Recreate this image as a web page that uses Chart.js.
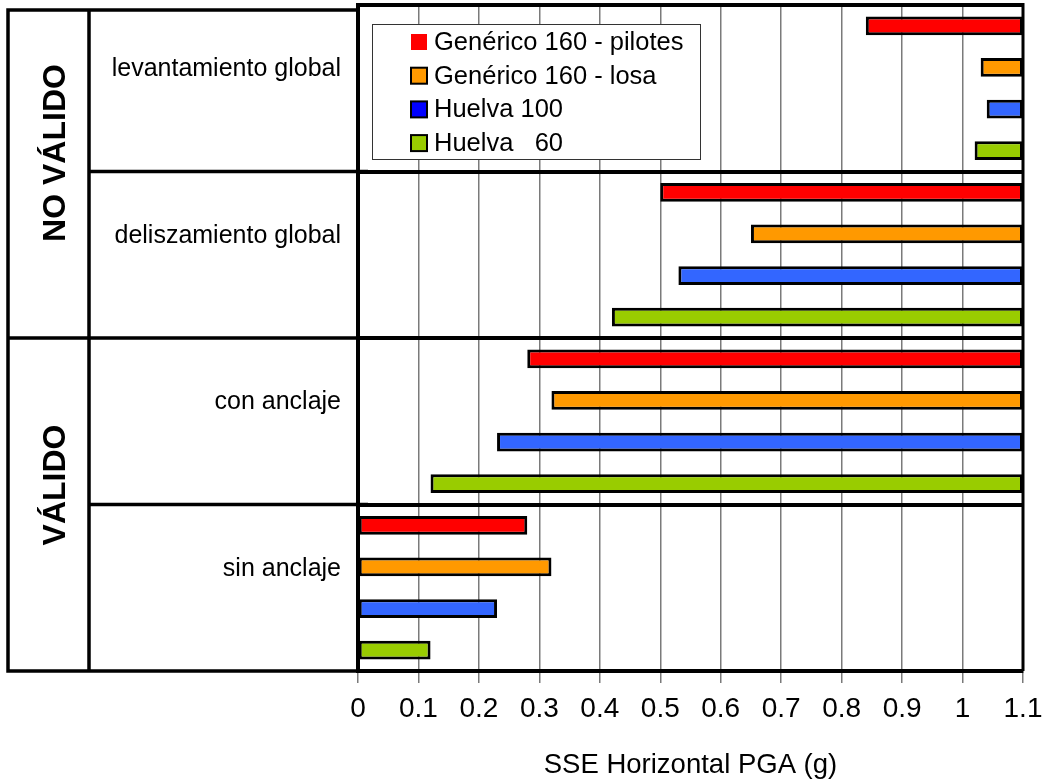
<!DOCTYPE html>
<html>
<head>
<meta charset="utf-8">
<script src="https://cdn.jsdelivr.net/npm/chart.js@4.4.0/dist/chart.umd.min.js"></script>
<style>
  html, body { margin: 0; padding: 0; background: #fff; }
</style>
</head>
<body>
<canvas id="chart_canvas" width="1048" height="784"></canvas>
<script>
const FONT = "'Liberation Sans', Arial, sans-serif";

const categories = ['levantamiento global', 'deliszamiento global', 'con anclaje', 'sin anclaje'];
const groupLabels = ['NO VÁLIDO', 'VÁLIDO'];

const seriesNames = ['Genérico 160 - pilotes', 'Genérico 160 - losa', 'Huelva 100', 'Huelva   60'];
const seriesColors = ['#ff0000', '#ff9900', '#3366ff', '#99cc00'];
const legendColors = ['#ff0000', '#ff9900', '#0000ff', '#99cc00'];

// floating bars: [from, to] per category
const pilotesFrom = [0.84, 0.50, 0.28, 0];
const pilotesTo   = [1.1, 1.1, 1.1, 0.28];
const losaFrom    = [1.03, 0.65, 0.32, 0];
const losaTo      = [1.1, 1.1, 1.1, 0.32];
const h100From    = [1.04, 0.53, 0.23, 0];
const h100To      = [1.1, 1.1, 1.1, 0.23];
const h60From     = [1.02, 0.42, 0.12, 0];
const h60To       = [1.1, 1.1, 1.1, 0.12];

const xTickLabels = ['0', '0.1', '0.2', '0.3', '0.4', '0.5', '0.6', '0.7', '0.8', '0.9', '1', '1.1'];
const xTitle = 'SSE Horizontal PGA (g)';

const pairs = (a, b) => a.map((v, i) => [v, b[i]]);
const seriesData = [
    pairs(pilotesFrom, pilotesTo),
    pairs(losaFrom, losaTo),
    pairs(h100From, h100To),
    pairs(h60From, h60To)
];

const datasets = seriesNames.map((name, i) => ({
    label: name,
    data: seriesData[i],
    backgroundColor: seriesColors[i],
    borderColor: '#000',
    borderWidth: 3,
    borderSkipped: false,
    categoryPercentage: 1,
    barPercentage: 0.45
}));

// left table, right border, legend box
const framePlugin = {
    id: 'frame',
    afterDraw(chart) {
        const ctx = chart.ctx;
        const a = chart.chartArea;
        const step = (a.bottom - a.top) / categories.length;
        const tLeft = 8, tMid = 89, tTop = 10;

        ctx.save();
        ctx.strokeStyle = '#000';
        ctx.lineWidth = 3.5;
        ctx.beginPath();
        ctx.moveTo(a.left, tTop);
        ctx.lineTo(tLeft, tTop);
        ctx.lineTo(tLeft, a.bottom);
        ctx.lineTo(a.left, a.bottom);
        ctx.moveTo(tMid, tTop);
        ctx.lineTo(tMid, a.bottom);
        for (let i = 1; i < categories.length; i++) {
            const y = a.top + i * step;
            ctx.moveTo(i === 2 ? tLeft : tMid, y);
            ctx.lineTo(a.left + 10, y);
        }
        ctx.stroke();

        ctx.lineWidth = 3;
        ctx.beginPath();
        ctx.moveTo(a.right, a.top - 2);
        ctx.lineTo(a.right, a.bottom);
        ctx.stroke();

        // group labels, rotated
        ctx.fillStyle = '#000';
        ctx.font = 'bold 32px ' + FONT;
        ctx.textAlign = 'center';
        ctx.textBaseline = 'middle';
        const gy = [153, 485];
        groupLabels.forEach((t, i) => {
            ctx.save();
            ctx.translate(56, gy[i]);
            ctx.rotate(-Math.PI / 2);
            ctx.fillText(t, 0, 0);
            ctx.restore();
        });

        // legend
        const lx = 372, ly = 24, lw = 328, lh = 135;
        ctx.fillStyle = '#fff';
        ctx.fillRect(lx, ly, lw, lh);
        ctx.lineWidth = 1;
        ctx.strokeStyle = '#333';
        ctx.strokeRect(lx + 0.5, ly + 0.5, lw, lh);
        ctx.font = '25.5px ' + FONT;
        ctx.textAlign = 'left';
        chart.data.datasets.forEach((ds, i) => {
            const cy = ly + 18 + i * 33.7;
            ctx.fillStyle = legendColors[i];
            ctx.fillRect(411, cy - 8, 16, 16);
            if (i > 0) {
                ctx.lineWidth = 2;
                ctx.strokeStyle = '#000';
                ctx.strokeRect(411, cy - 8, 16, 16);
            }
            ctx.fillStyle = '#000';
            ctx.fillText(ds.label, 434, cy + 1);
        });
        ctx.restore();
    }
};

const config = {
    type: 'bar',
    data: { labels: categories, datasets: datasets },
    options: {
        indexAxis: 'y',
        responsive: false,
        animation: false,
        layout: { padding: { top: 5, right: 25, left: 0, bottom: 0 } },
        plugins: {
            legend: { display: false },
            tooltip: { enabled: false }
        },
        scales: {
            x: {
                min: 0,
                max: 1.1,
                afterFit: (s) => { s.height = 113; s.paddingLeft = 0; s.paddingRight = 0; },
                ticks: {
                    stepSize: 0.1,
                    autoSkip: false,
                    maxRotation: 0,
                    padding: 9,
                    color: '#000',
                    font: { family: FONT, size: 28 },
                    callback: (v, i) => xTickLabels[i]
                },
                grid: { color: '#7a7a7a', lineWidth: 1.5, tickLength: 12 },
                border: { color: '#000', width: 4 },
                title: {
                    display: true,
                    text: xTitle,
                    color: '#000',
                    font: { family: FONT, size: 27.5 },
                    padding: { top: 0, bottom: 2 }
                }
            },
            y: {
                afterFit: (s) => { s.width = 358; s.paddingTop = 0; s.paddingBottom = 0; },
                ticks: {
                    padding: 17,
                    labelOffset: -19,
                    color: '#000',
                    font: { family: FONT, size: 25 }
                },
                grid: { color: '#000', lineWidth: 4, drawTicks: false, offset: true },
                border: { color: '#000', width: 4 }
            }
        }
    },
    plugins: [framePlugin]
};

const myChart = new Chart(document.getElementById('chart_canvas'), config);
</script>
</body>
</html>
